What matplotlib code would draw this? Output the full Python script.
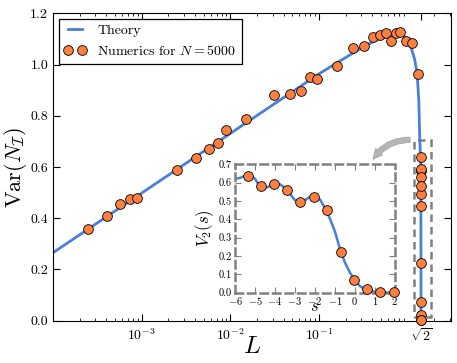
import matplotlib
matplotlib.use("Agg")
import matplotlib.pyplot as plt
from matplotlib.patches import Rectangle
from matplotlib.ticker import FixedLocator, FormatStrFormatter, LogLocator
import numpy as np

plt.rcParams['font.family'] = 'serif'
plt.rcParams['font.serif'] = ['cmr10']
plt.rcParams['mathtext.fontset'] = 'cm'
plt.rcParams['axes.formatter.use_mathtext'] = True
plt.rcParams['axes.unicode_minus'] = True

# theory curve
theory_L = [1e-4, 1e-3, 1e-2, 0.1, 0.3, 0.5, 0.78, 0.89, 1.06, 1.2, 1.28, 1.336,
            1.371, 1.39, 1.3997, 1.4021, 1.4045, 1.4070, 1.4094, 1.4118, 1.4142,
            1.4166, 1.4190]
theory_V = [0.265, 0.498, 0.731, 0.964, 1.065, 1.105, 1.126, 1.115, 1.083, 1.02,
            0.963, 0.86, 0.705, 0.65, 0.622, 0.622, 0.596, 0.505, 0.527, 0.335,
            0.065, 0.004, 0.0]

# numerics, N = 5000
num_L = [2.50e-4, 4.09e-4, 5.74e-4, 7.33e-4, 8.85e-4, 2.52e-3, 4.13e-3, 5.74e-3,
         7.31e-3, 9.0e-3, 0.0150, 0.0313, 0.0470, 0.0625, 0.0789, 0.0955, 0.158,
         0.241, 0.321, 0.402, 0.482, 0.564, 0.641, 0.731, 0.817, 0.962, 1.125,
         1.294, 1.4012, 1.4028, 1.4044, 1.4060, 1.4076, 1.4092, 1.4108, 1.4124,
         1.4140, 1.4156, 1.4172, 1.4188]
num_V = [0.357, 0.408, 0.454, 0.473, 0.478, 0.590, 0.634, 0.670, 0.695, 0.745,
         0.787, 0.882, 0.886, 0.896, 0.950, 0.942, 0.994, 1.063, 1.072, 1.106,
         1.116, 1.122, 1.093, 1.124, 1.127, 1.094, 1.084, 0.963, 0.638, 0.584,
         0.591, 0.562, 0.493, 0.524, 0.449, 0.224, 0.071, 0.020, 0.002, 0.002]

# inset: scaling function V_2(s)
inset_s = [-6.0, -5.75, -5.5, -5.25, -5.0, -4.75, -4.5, -4.25, -4.0, -3.75, -3.5,
           -3.25, -3.0, -2.75, -2.5, -2.25, -2.0, -1.75, -1.5, -1.25, -1.0, -0.75,
           -0.5, -0.25, 0.0, 0.25, 0.5, 0.75, 1.0, 1.5, 2.0]
inset_V = [0.622, 0.626, 0.637, 0.640, 0.622, 0.580, 0.570, 0.582, 0.596, 0.592,
           0.572, 0.540, 0.505, 0.490, 0.505, 0.522, 0.527, 0.510, 0.462, 0.405,
           0.335, 0.240, 0.165, 0.110, 0.065, 0.036, 0.018, 0.009, 0.004, 0.001,
           0.0]
inset_pts_s = [-5.36, -4.71, -4.04, -3.37, -2.72, -2.03, -1.40, -0.71, -0.04, 0.63,
               1.28, 1.95]
inset_pts_V = [0.638, 0.584, 0.591, 0.562, 0.493, 0.524, 0.449, 0.224, 0.071, 0.020,
               0.002, 0.002]

blue = '#4a7fd9'
orange = '#ff7f3f'
grey = '#808080'

fig = plt.figure(figsize=(4.57, 3.63), dpi=100)
ax = fig.add_axes([0.116, 0.117, 0.870, 0.846])

ax.plot(theory_L, theory_V, color=blue, lw=2, label='Theory', zorder=2)
ax.plot(num_L, num_V, 'o', color=orange, mec='k', mew=0.6, ms=7,
        label=r'Numerics for $N=5000$', zorder=3, clip_on=False)

ax.set_xscale('log')
ax.set_xlim(1e-4, 3.05)
ax.set_ylim(0, 1.2)
ax.xaxis.set_major_locator(FixedLocator([1e-3, 1e-2, 1e-1, np.sqrt(2)]))
ax.set_xticklabels([r'$10^{-3}$', r'$10^{-2}$', r'$10^{-1}$', r'$\sqrt{2}$'])
ax.xaxis.set_minor_locator(LogLocator(base=10, subs=np.arange(2, 10)))
ax.xaxis.set_minor_formatter(plt.NullFormatter())
ax.set_yticks([0.0, 0.2, 0.4, 0.6, 0.8, 1.0, 1.2])
ax.yaxis.set_major_formatter(FormatStrFormatter('%.1f'))
ax.tick_params(which='both', direction='in', top=True, right=True, labelsize=10)
ax.tick_params(which='major', length=5, width=0.8)
ax.tick_params(which='minor', length=2.5, width=0.6)
ax.tick_params(axis='x', pad=5)

ax.set_xlabel(r'$L$', fontsize=18, labelpad=-6)
ax.set_ylabel(r'$\mathrm{Var}(N_{\mathcal{I}})$', fontsize=16, labelpad=1)

leg = ax.legend(loc='upper left', numpoints=2, fontsize=10, fancybox=False,
                edgecolor='k', framealpha=1, borderaxespad=0.4,
                handlelength=1.6, handletextpad=0.8)
leg.get_frame().set_linewidth(0.9)

# dashed box around the points near sqrt(2)
ax.add_patch(Rectangle((1.187, 0.015), 1.833 - 1.187, 0.69, fill=False,
                       ls=(0, (3, 2)), lw=1.8, ec=grey, zorder=1))

# curved arrow towards the inset
ax.annotate('', xy=(0.801, 0.517), xytext=(0.905, 0.588),
            xycoords='axes fraction', textcoords='axes fraction',
            arrowprops=dict(arrowstyle='simple,head_length=0.7,head_width=0.7,tail_width=0.4',
                            connectionstyle='arc3,rad=0.3', fc='#b5b5b5',
                            ec='#a0a0a0', lw=0.5))

# inset
ins = fig.add_axes([0.514, 0.194, 0.350, 0.353])
ins.plot(inset_s, inset_V, color=blue, lw=1.8)
ins.plot(inset_pts_s, inset_pts_V, 'o', color=orange, mec='k', mew=0.6, ms=7,
         clip_on=False, zorder=3)
ins.set_xlim(-6, 2)
ins.set_ylim(0, 0.7)
ins.set_xticks(range(-6, 3))
ins.set_yticks(np.arange(0, 0.71, 0.1))
ins.yaxis.set_major_formatter(FormatStrFormatter('%.1f'))
for sp in ins.spines.values():
    sp.set_linestyle((0, (3, 2)))
    sp.set_linewidth(1.8)
    sp.set_edgecolor(grey)
ins.tick_params(direction='in', top=True, right=True, labelsize=7.5, length=4,
                color=grey, pad=2)
ins.set_xlabel(r'$s$', fontsize=12, labelpad=-6)
ins.set_ylabel(r'$V_2(s)$', fontsize=12, labelpad=2)
ins.patch.set_alpha(0)

fig.savefig('out.png', dpi=100)
